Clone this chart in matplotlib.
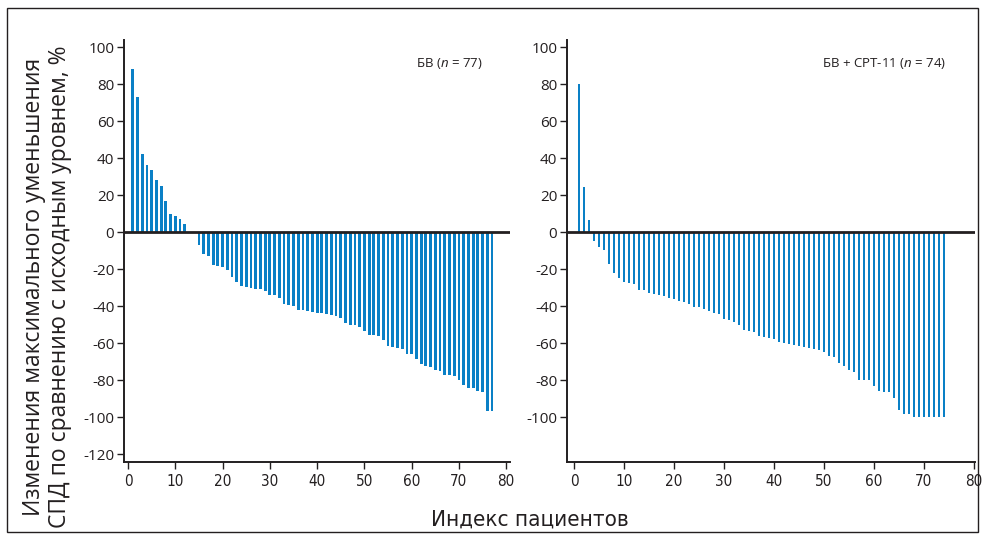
import matplotlib
matplotlib.use("Agg")
import matplotlib.pyplot as plt
from matplotlib.patches import Rectangle

# best change of the target lesion sum vs baseline, per patient (sorted)
bv_values = [
    88.1, 73.0, 42.2, 36.4, 33.3, 28.1, 24.9, 16.6, 9.5, 8.5, 6.8, 4.1,
    0.0, 0.0,
    -7.2, -11.9, -13.2, -18.0, -18.6, -19.1, -20.5, -24.5, -27.0, -29.2,
    -29.5, -30.3, -30.6, -30.8, -31.7, -33.9, -34.2, -35.7, -38.7, -39.3,
    -40.2, -42.0, -42.3, -42.7, -43.0, -43.6, -43.8, -44.1, -44.7, -45.4,
    -46.5, -49.2, -50.1, -50.5, -51.4, -53.3, -55.5, -55.7, -56.4, -58.6,
    -61.4, -62.2, -62.9, -63.2, -65.8, -65.9, -68.6, -71.4, -72.4, -72.8,
    -74.8, -75.0, -77.3, -77.5, -77.7, -80.2, -82.9, -84.3, -84.3, -85.8,
    -86.5, -96.6, -96.6,
]
bv_cpt_values = [
    80.2, 24.3, 6.3,
    -4.7, -8.3, -9.5, -17.1, -22.2, -25.0, -27.0, -27.6, -28.1, -31.4,
    -31.5, -33.0, -33.3, -34.1, -34.8, -35.5, -36.4, -37.5, -37.8, -39.1,
    -40.4, -40.4, -41.6, -42.9, -43.6, -44.3, -47.0, -47.7, -48.8, -50.5,
    -53.0, -53.5, -54.2, -56.2, -56.8, -57.1, -57.7, -59.5, -59.8, -60.4,
    -61.3, -61.6, -62.3, -62.7, -63.2, -63.6, -64.7, -67.0, -67.7, -70.8,
    -72.4, -74.6, -75.7, -79.8, -80.0, -80.0, -83.4, -85.9, -86.3, -86.7,
    -89.7, -96.4, -98.2, -98.4, -100, -100, -100, -100, -100, -100, -100,
]
x_ticks = list(range(0, 81, 10))
left_yticks = list(range(-120, 101, 20))
right_yticks = list(range(-100, 101, 20))

BAR_COLOR = "#0a80c6"
INK = "#231f20"
plt.rcParams["font.family"] = ["Open Sans", "DejaVu Sans"]
plt.rcParams["axes.unicode_minus"] = False
plt.rcParams["mathtext.fontset"] = "custom"
plt.rcParams["mathtext.rm"] = "Open Sans"
plt.rcParams["mathtext.it"] = "Open Sans:italic"

fig = plt.figure(figsize=(9.86, 5.4), dpi=100, facecolor="white")

# thin frame round the whole figure
fig.patches.append(Rectangle((7 / 986, 8 / 540), 971 / 986, 524 / 540,
                             transform=fig.transFigure, fill=False,
                             edgecolor=INK, linewidth=1.0))


def waterfall(ax, values, width, xlim, yticks, label):
    idx = list(range(1, len(values) + 1))
    ax.bar(idx, values, width=width, color=BAR_COLOR, linewidth=0)
    ax.axhline(0, color=INK, linewidth=2.0, zorder=3)
    ax.set_xlim(*xlim)
    ax.set_ylim(-124.3, 103.8)
    ax.set_xticks(x_ticks)
    ax.set_yticks(yticks)
    for side in ("top", "right"):
        ax.spines[side].set_visible(False)
    for side in ("left", "bottom"):
        ax.spines[side].set_color(INK)
        ax.spines[side].set_linewidth(1.4)
    ax.tick_params(direction="out", length=5, width=1.0, color=INK,
                   labelcolor=INK, labelsize=11)
    ax.tick_params(axis="y", pad=2)
    for t in ax.get_xticklabels():
        t.set_fontfamily("DejaVu Sans")
        t.set_fontstretch("condensed")
        t.set_fontsize(11)
    ax.text(0.93, 0.945, label, transform=ax.transAxes, ha="right",
            va="center", fontsize=9.5, color=INK)


ax1 = fig.add_axes([124 / 986, 78 / 540, 386 / 986, 422 / 540])
waterfall(ax1, bv_values, 0.6, (-0.85, 80.8), left_yticks,
          "БВ ($\\it{n}$ = 77)")

ax2 = fig.add_axes([567 / 986, 78 / 540, 408 / 986, 422 / 540])
waterfall(ax2, bv_cpt_values, 0.55, (-1.4, 80.2), right_yticks,
          "БВ + CPT-11 ($\\it{n}$ = 74)")

fig.text(47 / 986, 253 / 540,
         "Изменения максимального уменьшения\nСПД по сравнению с исходным уровнем, %",
         rotation=90, ha="center", va="center", fontsize=16.5, color=INK,
         linespacing=1.1)
fig.text(530 / 986, 20 / 540, "Индекс пациентов", ha="center", va="center",
         fontsize=16, color=INK, fontfamily="DejaVu Sans",
         fontstretch="condensed")

fig.savefig("out.png", dpi=100, facecolor=fig.get_facecolor())
